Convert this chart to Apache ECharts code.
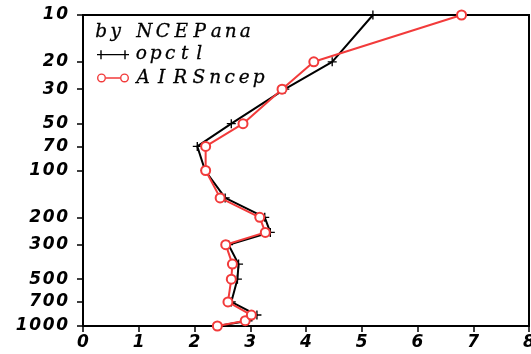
<!DOCTYPE html>
<html>
<head>
<meta charset="utf-8">
<script src="https://cdn.jsdelivr.net/npm/echarts@6/dist/echarts.min.js"></script>
<style>
  html, body { margin: 0; padding: 0; background: #fff; }
  #chart { width: 531px; height: 354px; }
</style>
</head>
<body>
<div id="chart"></div>
<script>
// Pressure levels (hPa), bottom of the profile first
const levels = [1000, 925, 850, 700, 500, 400, 300, 250, 200, 150, 100, 70, 50, 30, 20, 10];
// Profile values per level
const opctl = [2.42, 2.96, 3.12, 2.66, 2.77, 2.79, 2.61, 3.36, 3.26, 2.55, 2.19, 2.05, 2.66, 3.62, 4.47, 5.20];
const airsNcep = [2.41, 2.91, 3.02, 2.60, 2.66, 2.68, 2.56, 3.27, 3.17, 2.46, 2.20, 2.20, 2.87, 3.57, 4.14, 6.79];
// Axis ticks
const yTicks = [10, 20, 30, 50, 70, 100, 200, 300, 500, 700, 1000];
const xMin = 0, xMax = 8, xStep = 1;
const titleText = 'by NCEPana';

const RED = '#f23b3b';
const serif = '"DejaVu Serif", "Liberation Serif", serif';
const sans = '"DejaVu Sans", "Liberation Sans", sans-serif';

// Wide, evenly spaced lettering: each character sits in its own box
function spaced(str) {
  return str.split('').map(function (c) {
    const key = c === ' ' ? 's' : (c >= 'A' && c <= 'Z' ? 'u' : 'l');
    return '{' + key + '|' + c + '}';
  }).join('');
}
function serifToken(w) {
  return { width: w, align: 'center', fontFamily: serif, fontStyle: 'italic', fontWeight: 'normal',
           fontSize: 18.5, lineHeight: 20, color: '#000',
           textBorderColor: '#000', textBorderWidth: 0.3 };
}
const serifRich = { u: serifToken(18.5), l: serifToken(14.5), s: serifToken(12) };
const digitRich = {
  d: { width: 13.5, align: 'center', fontFamily: sans, fontStyle: 'italic', fontWeight: 'bold', fontSize: 17, color: '#000' }
};
function spacedDigits(v) {
  return String(v).split('').map(function (c) { return '{d|' + c + '}'; }).join('');
}

function pairs(vals) {
  return vals.map(function (v, i) { return [v, levels[i]]; });
}

// Legend samples: line with a marker at each end
const plusIcon = 'path://M0,3.8H32V5.2H0Z M3.3,0H4.7V9H3.3Z M27.3,0H28.7V9H27.3Z';
function ring(cx, cy, r, ri) {
  return 'M' + (cx - r) + ',' + cy + 'A' + r + ',' + r + ',0,1,1,' + (cx + r) + ',' + cy +
         'A' + r + ',' + r + ',0,1,1,' + (cx - r) + ',' + cy + 'Z' +
         'M' + (cx - ri) + ',' + cy + 'A' + ri + ',' + ri + ',0,1,0,' + (cx + ri) + ',' + cy +
         'A' + ri + ',' + ri + ',0,1,0,' + (cx - ri) + ',' + cy + 'Z';
}
const ringIcon = 'path://' + ring(4.5, 4.5, 4.5, 3.1) + ' M9,3.8H23V5.2H9Z ' + ring(27.5, 4.5, 4.5, 3.1);
const plusSymbol = 'path://M0,4.25H10V5.75H0Z M4.25,0H5.75V10H4.25Z';

const chart = echarts.init(document.getElementById('chart'), null, { renderer: 'canvas' });
chart.setOption({
  animation: false,
  backgroundColor: '#fff',
  title: {
    text: spaced(titleText),
    left: 94,
    top: 22,
    padding: 0,
    textStyle: { fontWeight: 'normal', rich: serifRich }
  },
  legend: {
    orient: 'vertical',
    left: 97,
    top: 45,
    itemGap: 4,
    itemWidth: 32,
    itemHeight: 9,
    padding: 0,
    selectedMode: false,
    formatter: function (name) { return spaced(name); },
    textStyle: { fontWeight: 'normal', rich: serifRich },
    data: [
      { name: 'opctl', icon: plusIcon, itemStyle: { color: '#000', borderWidth: 0 } },
      { name: 'AIRSncep', icon: ringIcon, itemStyle: { color: RED, borderWidth: 0 } }
    ]
  },
  grid: {
    left: 83, right: 2, top: 15, bottom: 28,
    outerBoundsMode: 'none',
    containLabel: false,
    show: true, borderColor: '#000', borderWidth: 2, backgroundColor: 'transparent'
  },
  xAxis: {
    type: 'value',
    min: xMin, max: xMax, interval: xStep,
    splitLine: { show: false },
    axisLine: { lineStyle: { color: '#000', width: 2 } },
    axisTick: { length: 6, lineStyle: { color: '#000', width: 1.5 } },
    axisLabel: {
      margin: 8,
      color: '#000',
      fontFamily: sans, fontStyle: 'italic', fontWeight: 'bold', fontSize: 17,
      showMinLabel: true, showMaxLabel: true,
      hideOverlap: false
    }
  },
  yAxis: {
    type: 'log',
    logBase: 10,
    min: 10, max: 1000,
    inverse: true,
    splitLine: { show: false },
    minorTick: { show: false },
    axisLine: { lineStyle: { color: '#000', width: 2 } },
    axisTick: { length: 6, customValues: yTicks, lineStyle: { color: '#000', width: 1.5 } },
    axisLabel: {
      margin: 14,
      customValues: yTicks,
      hideOverlap: false,
      formatter: function (v) { return spacedDigits(Math.round(v)); },
      rich: digitRich
    }
  },
  series: [
    {
      name: 'opctl',
      type: 'line',
      data: pairs(opctl),
      symbol: plusSymbol,
      symbolSize: 9,
      itemStyle: { color: '#000' },
      lineStyle: { color: '#000', width: 2 },
      z: 2
    },
    {
      name: 'AIRSncep',
      type: 'line',
      data: pairs(airsNcep),
      symbol: 'emptyCircle',
      symbolSize: 9,
      itemStyle: { color: RED, borderColor: RED, borderWidth: 2 },
      lineStyle: { color: RED, width: 2 },
      z: 3
    }
  ]
});
</script>
</body>
</html>
